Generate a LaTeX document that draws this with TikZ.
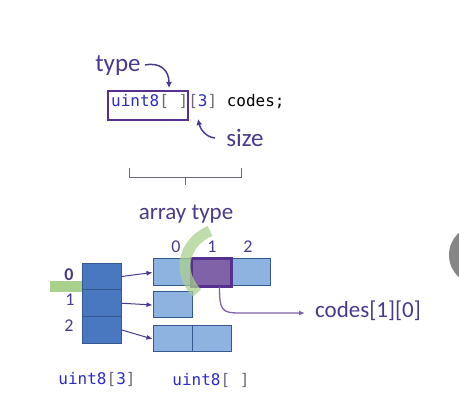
\documentclass[tikz,border=0pt]{standalone}
\usepackage{fontspec}
\setmainfont{Carlito}
\newfontfamily\codefont{DejaVu Sans Mono}
\usetikzlibrary{arrows.meta}
\definecolor{ink}{HTML}{4B3A8C}
\definecolor{kw}{HTML}{2B2BC8}
\definecolor{brk}{HTML}{6A6A7A}
\definecolor{cellA}{HTML}{4A78C0}
\definecolor{cellB}{HTML}{8FB3E0}
\definecolor{cellE}{HTML}{35598F}
\definecolor{pick}{HTML}{7F62A8}
\definecolor{pickE}{HTML}{55308E}
\definecolor{hl}{HTML}{A9D18E}
\tikzset{
  outer/.style={draw=cellE, fill=cellA, minimum width=39, minimum height=26.7, inner sep=0pt, line width=1pt},
  inner/.style={draw=cellE, fill=cellB, minimum width=39, minimum height=27, inner sep=0pt, line width=1pt},
  lbl/.style={text=ink, font=\fontsize{23}{23}\selectfont, inner sep=0pt},
  idx/.style={text=ink, font=\fontsize{18}{18}\selectfont, inner sep=0pt},
  ptr/.style={ink, line width=1pt, -{Latex[length=6pt,width=5pt]}},
}
\newcommand{\code}[1]{{\codefont\fontsize{16}{16}\selectfont #1}}
\begin{document}
\begin{tikzpicture}[x=1pt,y=-1pt]
\useasboundingbox (0,0) rectangle (459,420);
% declaration
\node[anchor=base west, inner sep=0pt] (decl) at (111,107)
  {\code{\textcolor{kw}{uint8}\textcolor{brk}{[\ ][}\textcolor{kw}{3}\textcolor{brk}{]} codes;}};
\draw[pickE, line width=1.3pt] (108,91) rectangle (188,120);
\node[lbl, font=\fontsize{25}{25}\selectfont] (type) at (118,66) {type};
\node[lbl, font=\fontsize{25}{25}\selectfont] (size) at (245,138) {size};
\draw[ink, line width=1.5pt, -{Latex[length=6pt,width=6pt]}] (145,65) .. controls (160,62) and (169,70) .. (169,88);
\draw[ink, line width=1.5pt, -{Latex[length=6pt,width=6pt]}] (215,138) .. controls (205,137) and (200,128) .. (198,119);
% brace
\draw[brk, line width=0.9pt] (129,168) -- (129,177) -- (241,177) -- (241,168);
\draw[brk, line width=0.9pt] (185,177) -- (185,185);
\node[lbl] (arrtype) at (186,214) {array type};
% outer array
\node[outer] (outer0) at (101.5,276.5) {};
\node[outer] (outer1) at (101.5,303.2) {};
\node[outer] (outer2) at (101.5,329.9) {};
\node[idx] (o0) at (69,275) {\textbf{0}};
\node[idx] (o1) at (70,300) {1};
\node[idx] (o2) at (69,326) {2};
% inner arrays
\node[inner] (cell00) at (172.5,272.5) {};
\node[inner, fill=pick, draw=pickE, line width=1.6pt] (cell01) at (211.5,272.5) {};
\node[inner] (cell02) at (251,272.5) {};
\node[inner, minimum height=26] (cell10) at (172.5,305) {};
\node[inner, minimum height=26] (cell20) at (172.5,339) {};
\node[inner, minimum height=26] (cell21) at (211.5,339) {};
\draw[pickE, line width=1.6pt] (cell01.south west) rectangle (cell01.north east);
\node[idx] (i0) at (176,247) {0};
\node[idx] (i1) at (212,247) {1};
\node[idx] (i2) at (248,247) {2};
% pointers
\draw[ptr] (outer0.east) -- (cell00.west);
\draw[ptr] (outer1.east) -- (cell10.west);
\draw[ptr] (outer2.east) -- (cell20.west);
% highlights
\fill[hl] (50,281) rectangle (82,292);
\draw[hl, opacity=0.75, line width=11pt] (210,231) .. controls (184,242) and (176,272) .. (197,293);
% element
\node[lbl, anchor=west] (lookup) at (315,311) {codes[1][0]};
\draw[pick, line width=1.3pt, -{Latex[length=6pt,width=5pt]}] ([xshift=8]cell01.south) .. controls +(0,24) and +(-18,0) .. (240,313) -- (305,313);
% type labels
\node[inner sep=0pt] (t3) at (97,379) {\code{\textcolor{kw}{uint8}\textcolor{brk}{[}\textcolor{kw}{3}\textcolor{brk}{]}}};
\node[inner sep=0pt] (tn) at (211,380) {\code{\textcolor{kw}{uint8}\textcolor{brk}{[\ ]}}};
% screen edge
\begin{scope}
\clip (0,0) rectangle (459,420);
\fill[gray!95] (479,255) circle (30);
\end{scope}
\end{tikzpicture}
\end{document}
